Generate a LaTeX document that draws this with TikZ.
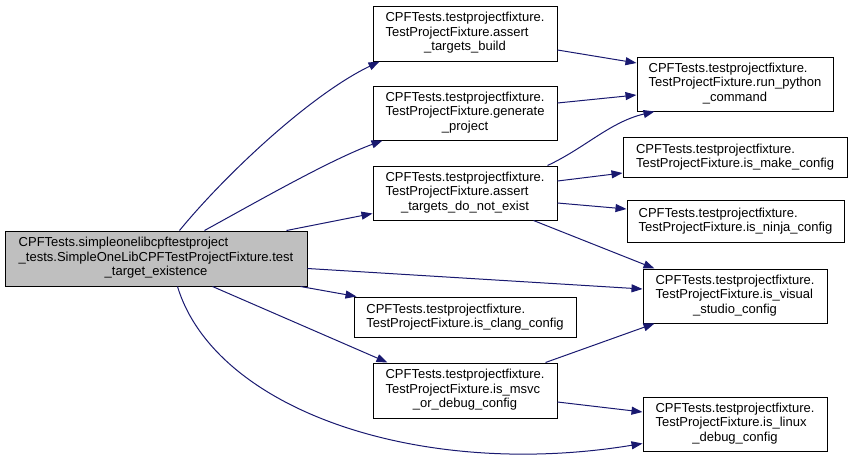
\documentclass[tikz,border=0pt]{standalone}
\usepackage{fontspec}
\setmainfont{Liberation Sans}
\usepackage{tikz}
\usetikzlibrary{arrows.meta}
\definecolor{edgeblue}{RGB}{25,25,112}
\definecolor{maingray}{RGB}{191,191,191}
\newcommand{\fnlabel}[3]{\begin{tabular}{@{}l@{}}#1\\#2\\\multicolumn{1}{@{}c@{}}{#3}\end{tabular}}

\begin{document}
\begin{tikzpicture}[x=1pt, y=-1pt,
            fnbox/.style={draw, black, line width=1pt, fill=white, rectangle, inner sep=0pt, align=left,
                          font=\fontsize{13}{14.5}\selectfont},
            call/.style={draw=edgeblue, line width=1pt, -{Triangle[length=11pt, width=8pt, fill=edgeblue]}}
        ]
            \useasboundingbox (0,0) rectangle (852,461);

            % Caller
            \node (main) at (156,258.5) [fnbox, fill=maingray, minimum width=302pt, minimum height=55pt]
                {\fnlabel{CPFTests.simpleonelibcpftestproject}{\_tests.SimpleOneLibCPFTestProjectFixture.test}{\_target\_existence}};

            % Middle column
            \node (build) at (465,33.5) [fnbox, minimum width=184pt, minimum height=55pt]
                {\fnlabel{CPFTests.testprojectfixture.}{TestProjectFixture.assert}{\_targets\_build}};
            \node (gen) at (465,113) [fnbox, minimum width=184pt, minimum height=54pt]
                {\fnlabel{CPFTests.testprojectfixture.}{TestProjectFixture.generate}{\_project}};
            \node (notexist) at (465,193) [fnbox, minimum width=184pt, minimum height=54pt]
                {\fnlabel{CPFTests.testprojectfixture.}{TestProjectFixture.assert}{\_targets\_do\_not\_exist}};
            \node (clang) at (465,317) [fnbox, minimum width=222pt, minimum height=40pt]
                {CPFTests.testprojectfixture.\\TestProjectFixture.is\_clang\_config};
            \node (msvc) at (465,390.5) [fnbox, minimum width=184pt, minimum height=55pt]
                {\fnlabel{CPFTests.testprojectfixture.}{TestProjectFixture.is\_msvc}{\_or\_debug\_config}};

            % Right column
            \node (python) at (735,84) [fnbox, minimum width=196pt, minimum height=54pt]
                {\fnlabel{CPFTests.testprojectfixture.}{TestProjectFixture.run\_python}{\_command}};
            \node (make) at (735,157) [fnbox, minimum width=224pt, minimum height=40pt]
                {CPFTests.testprojectfixture.\\TestProjectFixture.is\_make\_config};
            \node (ninja) at (735.5,221) [fnbox, minimum width=217pt, minimum height=42pt]
                {CPFTests.testprojectfixture.\\TestProjectFixture.is\_ninja\_config};
            \node (visual) at (735,296) [fnbox, minimum width=184pt, minimum height=54pt]
                {\fnlabel{CPFTests.testprojectfixture.}{TestProjectFixture.is\_visual}{\_studio\_config}};
            \node (linux) at (735,424) [fnbox, minimum width=184pt, minimum height=54pt]
                {\fnlabel{CPFTests.testprojectfixture.}{TestProjectFixture.is\_linux}{\_debug\_config}};

            % Calls from the test
            \draw [call] ([xshift=175pt]main.north west) .. controls (225,175) and (310,95) .. ([xshift=7pt]build.south west);
            \draw [call] ([xshift=200pt]main.north west) .. controls (260,200) and (330,160) .. ([xshift=10pt]gen.south west);
            \draw [call] ([xshift=282pt]main.north west) -- ([yshift=7pt]notexist.south west);
            \draw [call] ([yshift=18pt]main.south east) -- ([yshift=7pt]visual.west);
            \draw [call] ([xshift=-7pt]main.south east) -- ([xshift=3pt]clang.north west);
            \draw [call] ([xshift=208pt]main.south west) -- ([xshift=15pt]msvc.north west);
            \draw [call] ([xshift=173pt]main.south west) .. controls (215,410) and (420,480) .. ([yshift=8pt]linux.south west);

            % Calls between fixture methods
            \draw [call] ([yshift=-16.5pt]build.east) -- ([yshift=21pt]python.west);
            \draw [call] ([yshift=10pt]gen.east) -- ([yshift=-11pt]python.west);
            \draw [call] ([xshift=-10pt]notexist.north east) .. controls (585,148) and (610,122) .. ([xshift=18pt]python.south west);
            \draw [call] ([yshift=12pt]notexist.east) -- ([yshift=-16pt]make.west);
            \draw [call] ([yshift=-10pt]notexist.east) -- ([yshift=12pt]ninja.west);
            \draw [call] ([xshift=-24pt]notexist.south east) -- ([xshift=12pt]visual.north west);
            \draw [call] ([xshift=-12pt]msvc.north east) -- ([xshift=12pt]visual.south west);
            \draw [call] ([yshift=-11.5pt]msvc.east) -- ([yshift=12pt]linux.west);
        \end{tikzpicture}
\end{document}
